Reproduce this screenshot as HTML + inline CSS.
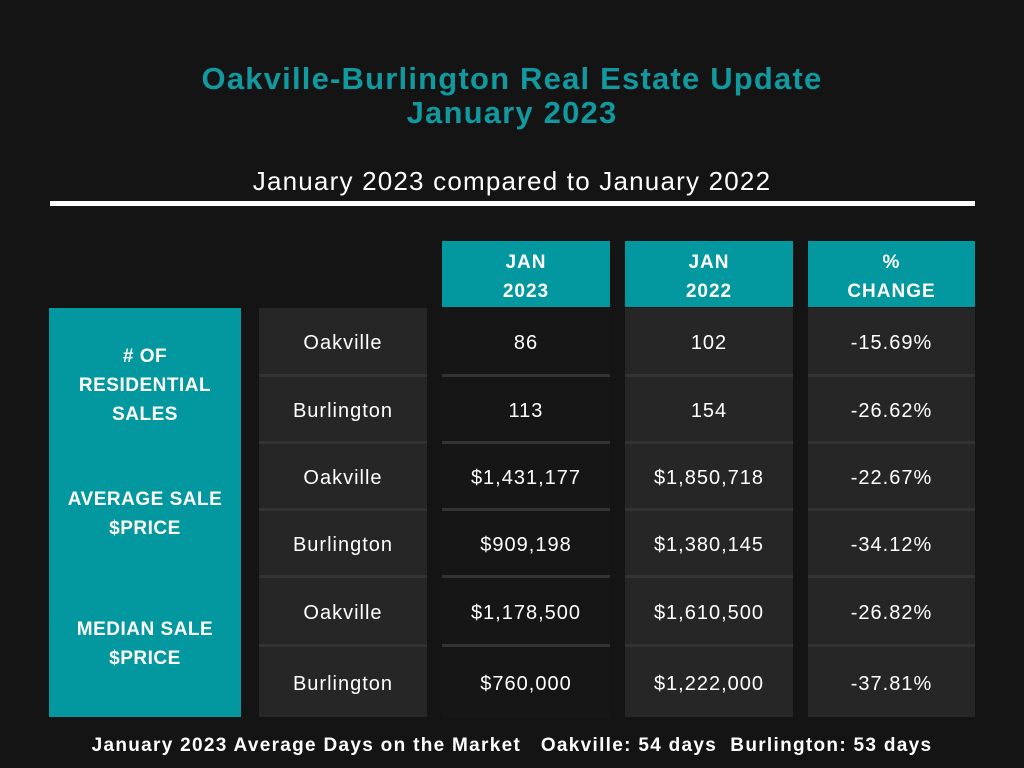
<!DOCTYPE html>
<html><head><meta charset="utf-8"><style>
body{margin:0;width:1024px;height:768px;background:#141414;position:relative;overflow:hidden;font-family:"Liberation Sans","DejaVu Sans",sans-serif;color:#fff}
.a{position:absolute}
.t{color:#12989f;font-weight:bold;font-size:31px;letter-spacing:1.2px;text-align:center;width:1024px;left:0}
.h{background:#03989f;font-weight:bold;font-size:19px;text-align:center;line-height:29px;letter-spacing:1px;padding-top:7px;box-sizing:border-box}
.c{display:flex;align-items:center;justify-content:center;font-size:20px;letter-spacing:1px;border-bottom:3px solid #333;box-sizing:border-box}
.lab{background:#03989f;font-weight:bold;font-size:19px;text-align:center;letter-spacing:0.5px;line-height:29px}
</style></head><body>
<div class="a t" style="top:61px">Oakville-Burlington Real Estate Update</div>
<div class="a t" style="top:95px">January 2023</div>
<div class="a" style="top:166px;left:0;width:1024px;text-align:center;font-size:26px;letter-spacing:1.2px">January 2023 compared to January 2022</div>
<div class="a" style="top:201px;left:50px;width:925px;height:5px;background:#fff"></div>
<div class="a h" style="left:442px;top:241px;width:168px;height:66px">JAN<br>2023</div>
<div class="a h" style="left:625px;top:241px;width:168px;height:66px">JAN<br>2022</div>
<div class="a h" style="left:808px;top:241px;width:167px;height:66px">%<br>CHANGE</div>
<div class="a lab" style="left:49px;top:308px;width:192px;height:409px">
<div class="a" style="top:34px;width:192px"># OF<br>RESIDENTIAL<br>SALES</div>
<div class="a" style="top:177px;width:192px">AVERAGE SALE<br>$PRICE</div>
<div class="a" style="top:307px;width:192px">MEDIAN SALE<br>$PRICE</div>
</div>
<div id="grid"></div>
<div class="a" style="top:735px;left:0;width:1024px;text-align:center;font-size:19px;letter-spacing:1.3px;font-weight:bold;white-space:pre">January 2023 Average Days on the Market   Oakville: 54 days  Burlington: 53 days</div>
<script>
const cities=["Oakville","Burlington","Oakville","Burlington","Oakville","Burlington"];
const jan2023=["86","113","$1,431,177","$909,198","$1,178,500","$760,000"];
const jan2022=["102","154","$1,850,718","$1,380,145","$1,610,500","$1,222,000"];
const change=["-15.69%","-26.62%","-22.67%","-34.12%","-26.82%","-37.81%"];
const rows=[308,377,444,511,578,647,717];
const cols=[[259,168,"#262626",cities,"city"],[442,168,"#161616",jan2023,"jan-2023"],[625,168,"#262626",jan2022,"jan-2022"],[808,167,"#262626",change,"change"]];
const g=document.getElementById('grid');
cols.forEach(c=>{c[3].forEach((v,i)=>{
 const d=document.createElement('div');
 d.className='a c';
 
 
 d.style.left=c[0]+'px';d.style.width=c[1]+'px';
 d.style.top=rows[i]+'px';d.style.height=(rows[i+1]-rows[i])+'px';
 d.style.background=c[2];
 d.style.paddingTop='4px';
 if(i==5)d.style.borderBottom='none';
 d.textContent=v;g.appendChild(d);
});});
</script>
</body></html>
